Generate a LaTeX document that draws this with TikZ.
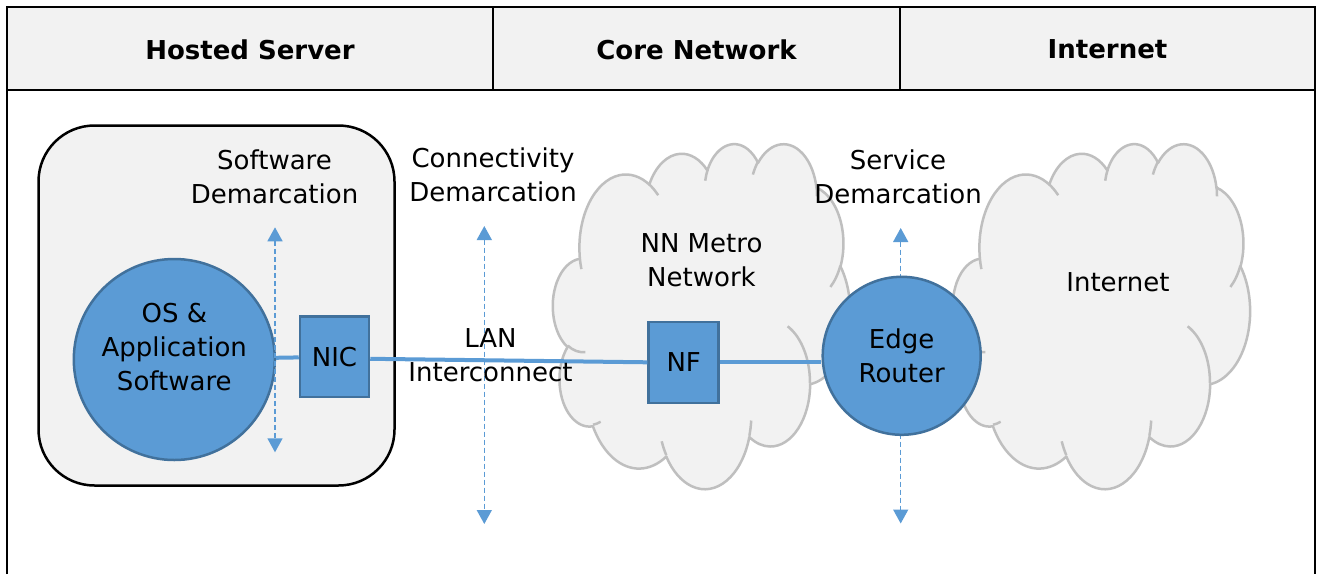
\documentclass[tikz,border=0pt]{standalone}
\usepackage{fontspec}
\setmainfont{DejaVu Sans}
\usetikzlibrary{arrows.meta}
\definecolor{blu}{HTML}{5B9BD5}
\definecolor{bluedge}{HTML}{41719C}
\definecolor{lightfill}{HTML}{F2F2F2}
\definecolor{cloudline}{HTML}{BFBFBF}

% arc of an Office-style cloud: wR hR startAngle sweep (visual angles, degrees)
\newcommand\ccarc[4]{%
  \pgfmathsetmacro\ctA{atan2((#1)*sin(#3),(#2)*cos(#3))}%
  \pgfmathsetmacro\ctB{atan2((#1)*sin((#3)+(#4)),(#2)*cos((#3)+(#4)))}%
  \pgfmathsetmacro\ctB{\ctB+360*(\ctB<\ctA)}%
  \pgfpatharcaxes{\ctA}{\ctB}{\pgfpointxy{#1}{0}}{\pgfpointxy{0}{#2}}%
}
\newcommand\officecloud[4]{%
  \pgfmathsetmacro\cxs{#3/432}%
  \pgfmathsetmacro\cys{#4/432}%
  \begin{scope}[shift={(#1,#2)}, x=\cxs pt, y=-\cys pt]
    \pgfsetlinewidth{2.5pt}\pgfsetstrokecolor{cloudline}\pgfsetfillcolor{lightfill}\pgfsetroundjoin
    \pgfpathmoveto{\pgfpointxy{39}{143.7}}%
    \ccarc{67.53}{91.90}{-190.4875}{123.7805}%
    \ccarc{53.33}{72.67}{-144.1024}{89.9452}%
    \ccarc{43.65}{59.45}{-145.8079}{99.7230}%
    \ccarc{48.57}{65.95}{-130.9861}{117.2417}%
    \ccarc{53.33}{72.73}{-78.7089}{109.0269}%
    \ccarc{67.75}{92.20}{-46.2673}{130.2690}%
    \ccarc{57.85}{78.67}{0.6250}{114.0333}%
    \ccarc{67.52}{92.15}{22.4516}{115.1726}%
    \ccarc{77.20}{105.43}{66.2426}{75.7110}%
    \ccarc{43.60}{59.18}{-274.9421}{146.7356}%
    \ccarc{43.45}{59.45}{-246.8285}{152.5189}%
    \pgfpathclose
    \pgfusepath{fill,stroke}%
    \pgfpathmoveto{\pgfpointxy{46.93}{261.77}}\ccarc{43.45}{59.45}{86.7420}{26.4295}%
    \pgfpathmoveto{\pgfpointxy{69.28}{348.99}}\ccarc{43.60}{59.18}{73.6105}{11.4475}%
    \pgfpathmoveto{\pgfpointxy{164.78}{390.90}}\ccarc{67.52}{92.15}{137.6242}{14.0811}%
    \pgfpathmoveto{\pgfpointxy{288.27}{347.51}}\ccarc{67.52}{92.15}{6.4533}{15.9984}%
    \pgfpathmoveto{\pgfpointxy{341.29}{229.54}}\ccarc{57.85}{78.67}{-70.2924}{70.9174}%
    \pgfpathmoveto{\pgfpointxy{417.98}{153.54}}\ccarc{53.33}{72.73}{30.3180}{27.7515}%
    \pgfpathmoveto{\pgfpointxy{383.24}{54.26}}\ccarc{48.57}{65.95}{-13.7443}{14.8589}%
    \pgfpathmoveto{\pgfpointxy{290.78}{39.52}}\ccarc{48.57}{65.95}{-149.1815}{18.1954}%
    \pgfpathmoveto{\pgfpointxy{221.41}{47.20}}\ccarc{43.65}{59.45}{-163.4943}{17.6864}%
    \pgfpathmoveto{\pgfpointxy{140.00}{51.92}}\ccarc{67.53}{91.90}{-66.7070}{12.3194}%
    \pgfpathmoveto{\pgfpointxy{41.27}{157.89}}\ccarc{67.53}{91.90}{157.6544}{11.8582}%
    \pgfusepath{stroke}%
  \end{scope}%
}

\tikzset{
  frame/.style={draw=black, line width=2.5pt},
  hdr/.style={font=\fontsize{26}{34}\selectfont\bfseries, inner sep=0pt},
  txt/.style={font=\fontsize{26}{34}\selectfont, align=center, inner sep=0pt},
  bluecirc/.style={circle, fill=blu, draw=bluedge, line width=2.5pt, inner sep=0pt},
  bluebox/.style={rectangle, fill=blu, draw=bluedge, line width=2.5pt, inner sep=0pt},
  hostbox/.style={rectangle, rounded corners=56pt, fill=lightfill, draw=black, line width=2.5pt},
  demarc/.style={draw=blu, line width=1.5pt, dash pattern=on 5pt off 3pt,
    {Triangle[width=15pt,length=14pt]}-{Triangle[width=15pt,length=14pt]}},
  link/.style={draw=blu, line width=4pt}
}

\begin{document}
\begin{tikzpicture}[x=1pt, y=-1pt]
\useasboundingbox (0,0) rectangle (1317,574);
\fill[white] (0,0) rectangle (1317,574);
% header band
\fill[lightfill] (7,7) rectangle (1315,90);
\draw[frame] (7,574) -- (7,7) -- (1315,7) -- (1315,574);
\draw[frame] (7,90) -- (1315,90);
\draw[frame] (493,7) -- (493,90);
\draw[frame] (900,7) -- (900,90);
\node[hdr] (h1) at (250,49.5) {Hosted Server};
\node[hdr] (h2) at (696.5,49.5) {Core Network};
\node[hdr] (h3) at (1107.5,49.5) {Internet};

% clouds
\officecloud{553}{143}{297}{345}
\officecloud{953}{143}{297}{345}
\node[txt] (nnlbl) at (701.5,260) {NN Metro\\Network};
\node[txt] (inetlbl) at (1118,282) {Internet};

% hosted server box
\node[hostbox, minimum width=356pt, minimum height=360pt] (host) at (216.5,305.5) {};

% demarcation arrows
\coordinate (cdtop) at (484.3,226);
\coordinate (cdbot) at (484.3,524);
\coordinate (sdtop) at (900.7,228);
\coordinate (sdbot) at (900.7,523.5);
\draw[demarc] (cdtop) -- (cdbot);
\draw[demarc] (sdtop) -- (sdbot);

% nodes
\node[bluecirc, minimum size=201pt,
  label={[txt, yshift=12.5pt]center:{OS \&\\Application\\Software}}] (os) at (174.3,359.5) {};
\node[bluebox, minimum width=69pt, minimum height=80.5pt, txt] (nic) at (334.5,356.8) {NIC};
\node[bluebox, minimum width=70pt, minimum height=81pt, txt] (nf) at (683.7,362.3) {NF};
\node[bluecirc, minimum size=158pt, txt] (router) at (901.7,355.8) {Edge\\Router};

\coordinate (swtop) at (275,227.3);
\coordinate (swbot) at (275,452.3);
\draw[demarc] (swtop) -- (swbot);

% links
\draw[link] (os) -- (nic);
\draw[link] ([yshift=-2pt]nic.east) -- (nf.west);
\draw[link] (nf.east) -- (nf.east -| router.west);

% labels
\node[txt] (swlbl) at (274.5,177) {Software\\Demarcation};
\node[txt] (cdlbl) at (493,175) {Connectivity\\Demarcation};
\node[txt] (sdlbl) at (898,177) {Service\\Demarcation};
\node[txt] (lanlbl) at (490.5,355) {LAN\\Interconnect};
\end{tikzpicture}
\end{document}
